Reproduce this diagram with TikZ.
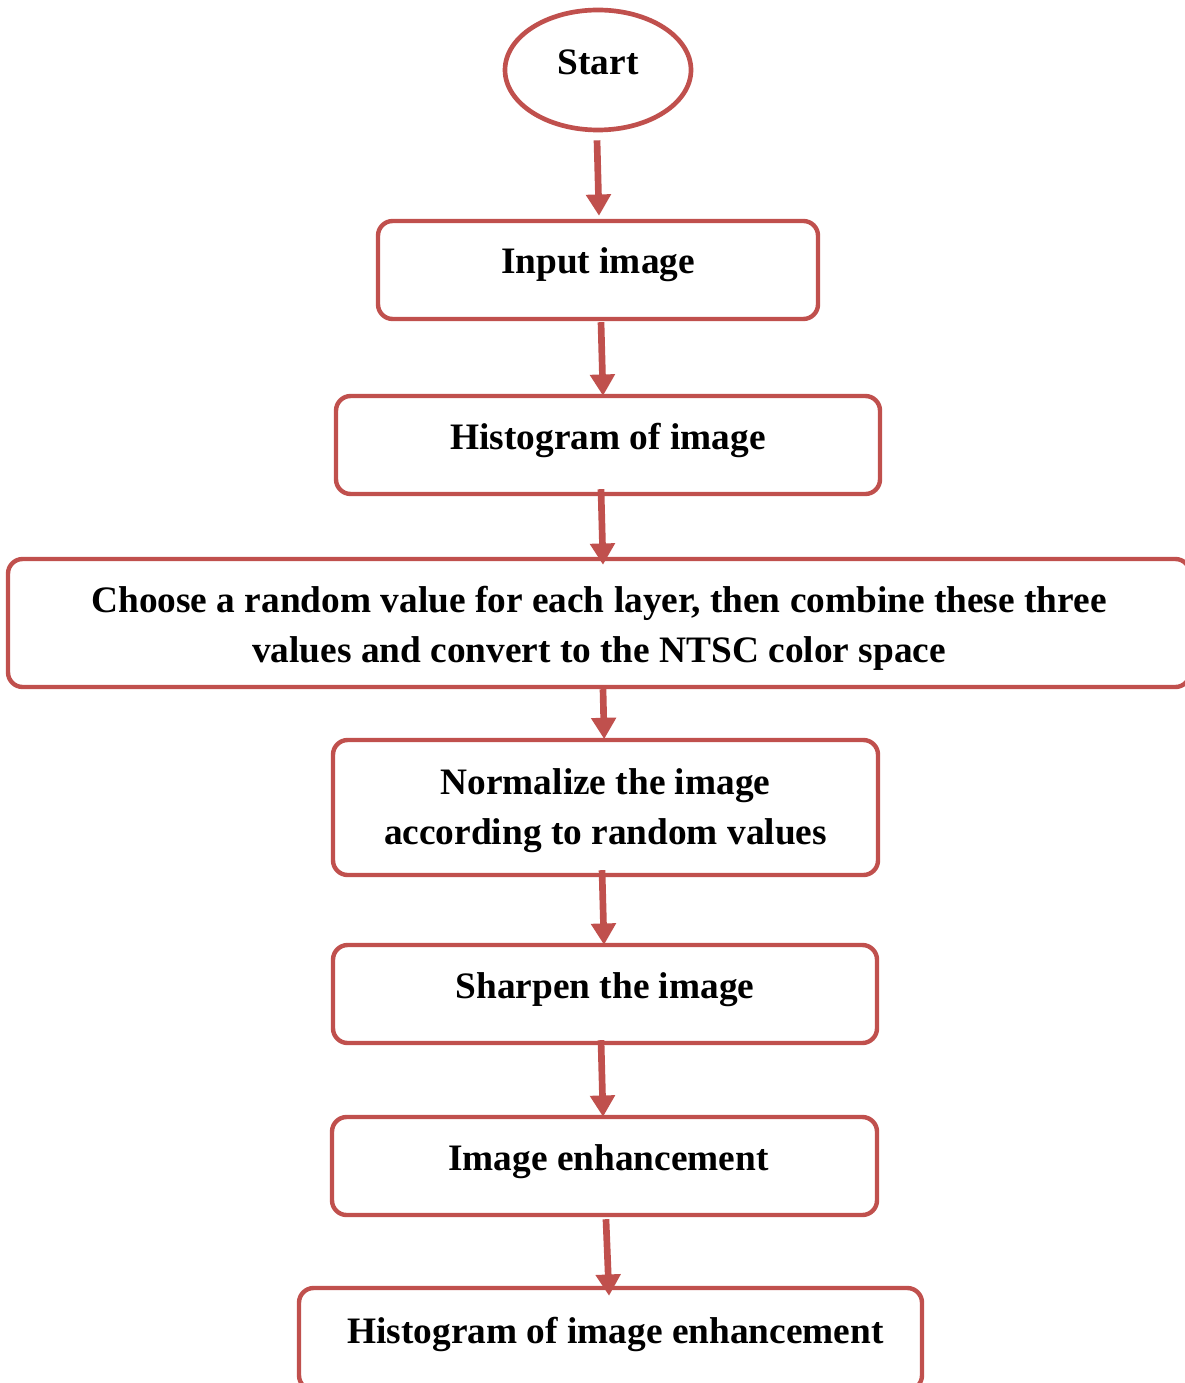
\documentclass[tikz,border=0pt]{standalone}
\usepackage{fontspec}
\setmainfont{Liberation Serif}
\usetikzlibrary{arrows.meta,shapes.geometric}
\definecolor{boxred}{RGB}{192,80,77}
\begin{document}
\begin{tikzpicture}[x=0.75pt,y=-0.75pt,
  every node/.style={font=\fontsize{28}{37.5}\selectfont\bfseries},
  stepbox/.style={draw=boxred,line width=3.3pt,rounded corners=11pt,inner sep=0pt,align=center},
  onebox/.style={stepbox,text height=19pt,text depth=13pt},
  txt/.style={inner sep=0pt,align=center},
  onetxt/.style={txt,text height=19pt,text depth=13pt},
  startnode/.style={draw=boxred,line width=3.5pt,ellipse,inner sep=0pt,text height=19.5pt,text depth=12pt},
  arr/.style={draw=boxred,line width=5pt,-{Triangle[width=18pt,length=16pt]}}]
\useasboundingbox (0,0) rectangle (1184,1383);
\node[startnode,minimum width=139.5pt,minimum height=90pt] (start) at (598,70) {Start};
\node[onebox,minimum width=330pt,minimum height=73.5pt] (input) at (598,270) {Input image};
\node[onebox,minimum width=408pt,minimum height=73.5pt] (hist) at (608,445) {Histogram of image};
\node[stepbox,minimum width=886.5pt,minimum height=96pt] (choose) at (599,623) {};
\node[txt] (choosetxt) at ([yshift=-3.75pt]choose.center) {Choose a random value for each layer, then combine these three\\values and convert to the NTSC color space};
\node[stepbox,minimum width=408.75pt,minimum height=101.25pt] (norm) at (605.5,807.5) {};
\node[txt] (normtxt) at ([yshift=-2.25pt]norm.center) {Normalize the image\\according to random values};
\node[onebox,minimum width=408pt,minimum height=73.5pt] (sharp) at (605,994) {Sharpen the image};
\node[stepbox,minimum width=408.75pt,minimum height=73.5pt] (enh) at (604.5,1166) {};
\node[onetxt] (enhtxt) at ([xshift=3pt]enh.center) {Image enhancement};
\node[stepbox,minimum width=467.25pt,minimum height=76.5pt] (henh) at (610.5,1339) {};
\node[onetxt] (henhtxt) at ([xshift=3.75pt]henh.center) {Histogram of image enhancement};
\draw[arr] ([xshift=-0.75pt,yshift=-6pt]start.south) -- ([xshift=0.75pt,yshift=2.25pt]input.north);
\draw[arr] ([xshift=2.25pt,yshift=-0.75pt]input.south) -- ([xshift=-3.75pt,yshift=-1.5pt]hist.north);
\draw[arr] ([xshift=-5.25pt,yshift=5.25pt]hist.south) -- ([xshift=3pt,yshift=-6pt]choose.north);
\draw[arr] ([xshift=3pt,yshift=0pt]choose.south) -- ([xshift=-1pt,yshift=-1pt]norm.north);
\draw[arr] ([xshift=-2.6pt,yshift=5.25pt]norm.south) -- ([xshift=-0.75pt,yshift=-1.5pt]sharp.north);
\draw[arr] ([xshift=-3pt,yshift=3.75pt]sharp.south) -- ([xshift=-1.1pt,yshift=-1.5pt]enh.north);
\draw[arr] ([xshift=1.1pt,yshift=-1.5pt]enh.south) -- ([xshift=-1.1pt,yshift=-7.5pt]henh.north);
\end{tikzpicture}
\end{document}
